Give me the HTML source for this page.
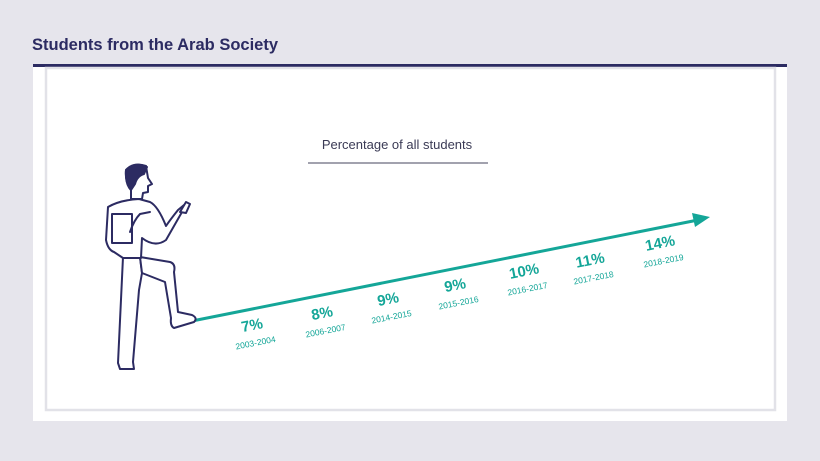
<!DOCTYPE html>
<html><head><meta charset="utf-8"><style>
html,body{margin:0;padding:0;}
body{width:820px;height:461px;background:#e6e5ec;position:relative;overflow:hidden;font-family:"Liberation Sans",sans-serif;}
</style></head><body>
<svg width="820" height="461" viewBox="0 0 820 461" xmlns="http://www.w3.org/2000/svg" style="position:absolute;left:0;top:0">
<text x="32" y="50" font-family="Liberation Sans" font-weight="bold" font-size="16.5" fill="#2c2b62">Students from the Arab Society</text>
<rect x="33" y="65" width="754" height="356" fill="#ffffff"/>
<rect x="33" y="64" width="754" height="3" fill="#2c2b62"/>
<rect x="46" y="68" width="729" height="342" fill="none" stroke="#e2e2e8" stroke-width="2.5"/>
<text x="397" y="149" text-anchor="middle" font-family="Liberation Sans" font-size="13" fill="#3a3a55">Percentage of all students</text>
<line x1="308" y1="163" x2="488" y2="163" stroke="#6a6a7e" stroke-width="1.3"/>
<line x1="182" y1="323" x2="698" y2="220" stroke="#14a698" stroke-width="3"/>
<polygon points="710,217 692,213 695,227" fill="#14a698"/>
<g fill="#14a698" font-family="Liberation Sans">
<g transform="translate(253,330) rotate(-11)"><text text-anchor="middle" font-weight="bold" font-size="15">7%</text><text y="16" text-anchor="middle" font-size="8.5">2003-2004</text></g>
<g transform="translate(323,318) rotate(-11)"><text text-anchor="middle" font-weight="bold" font-size="15">8%</text><text y="16" text-anchor="middle" font-size="8.5">2006-2007</text></g>
<g transform="translate(389,304) rotate(-11)"><text text-anchor="middle" font-weight="bold" font-size="15">9%</text><text y="16" text-anchor="middle" font-size="8.5">2014-2015</text></g>
<g transform="translate(456,290) rotate(-11)"><text text-anchor="middle" font-weight="bold" font-size="15">9%</text><text y="16" text-anchor="middle" font-size="8.5">2015-2016</text></g>
<g transform="translate(525,276) rotate(-11)"><text text-anchor="middle" font-weight="bold" font-size="15">10%</text><text y="16" text-anchor="middle" font-size="8.5">2016-2017</text></g>
<g transform="translate(591,265) rotate(-11)"><text text-anchor="middle" font-weight="bold" font-size="15">11%</text><text y="16" text-anchor="middle" font-size="8.5">2017-2018</text></g>
<g transform="translate(661,248) rotate(-11)"><text text-anchor="middle" font-weight="bold" font-size="15">14%</text><text y="16" text-anchor="middle" font-size="8.5">2018-2019</text></g>
</g>
<g fill="#fff" stroke="#2c2b62" stroke-width="2" stroke-linejoin="round" stroke-linecap="round">
<!-- back leg -->
<path d="M123,257 L118,363 L120,369 L134,369 L133,362 L139,290 L142,273 L140,257 Z"/>
<!-- front leg -->
<path d="M140,257 L170,262 Q176,264 174,272 L178,312 L192,315 Q198,318 194,322 L174,328 Q170,326 171,318 L165,282 L142,273 Z"/>
<!-- torso -->
<path d="M139,199 Q120,200 108,207 L106,240 Q108,250 114,252 L123,258 L141,258 L142,238 Q155,248 166,240 L182,212 L186,210 L184,205 L178,210 Q170,220 166,226 Q158,206 150,202 Z"/>
<!-- hand -->
<path d="M180,212 L186,202 L190,204 L186,213 Z"/>
<!-- book -->
<rect x="112" y="214" width="20" height="29"/>
<!-- arm with pen -->
<path d="M130,232 Q134,220 140,214 L150,212" fill="none"/>
<!-- head -->
<path d="M126,170 Q134,162 146,166 L148,178 L152,184 L148,186 L148,192 L143,193 L142,199 L131,199 L131,190 Q125,184 126,170 Z"/>
<path d="M126,170 Q134,161 147,167 L144,174 Q137,176 135,184 L131,190 Q125,182 126,170 Z" fill="#2c2b62"/>
</g>
</svg>
</body></html>
